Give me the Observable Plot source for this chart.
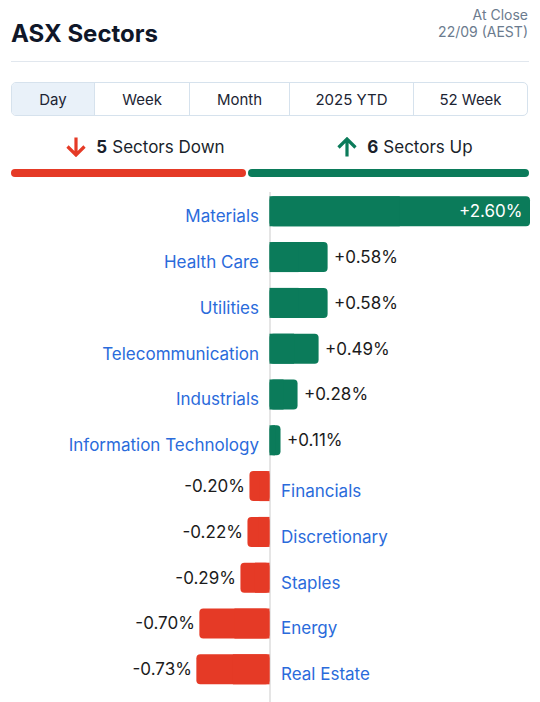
<!DOCTYPE html>
<html>
<head>
<meta charset="utf-8">
<script src="https://cdn.jsdelivr.net/npm/d3@7"></script>
<script src="https://cdn.jsdelivr.net/npm/@observablehq/plot@0.6"></script>
<style>
  html, body { margin: 0; padding: 0; background: #fff; }
  #wrap { position: relative; width: 540px; height: 702px; font-family: Inter, "Noto Sans", sans-serif; color: #111827; overflow: hidden; }
  .abs { position: absolute; }
  #title { left: 11px; top: 22px; font-size: 24px; line-height: 24px; font-weight: 700; color: #0f1729; }
  #asof { right: 12px; top: 7px; font-size: 14px; line-height: 16.7px; color: #6b7b8e; text-align: right; }
  #divider { left: 11px; top: 61px; width: 518px; height: 1px; background: #e1e7ee; }
  #tabs { left: 11px; top: 82px; width: 517px; height: 34px; box-sizing: border-box; border: 1px solid #d6e2ed; border-radius: 5px; display: flex; overflow: hidden; }
  .tab { box-sizing: border-box; height: 32px; display: flex; align-items: center; justify-content: center; font-size: 15px; color: #1c2433; border-right: 1px solid #d6e2ed; }
  .tab:last-child { border-right: none; flex: 1; }
  .tab.active { background: #e9f1f9; }
  .ind { top: 136.8px; height: 20px; line-height: 20px; font-size: 17px; color: #1a1f2b; display: flex; justify-content: center; align-items: center; }
  .ind svg { margin-right: 10px; }
  .ind b { font-weight: 700; margin-right: 5px; }
  .seg { top: 169px; height: 8px; border-radius: 4px; }
  #chart { left: 0; top: 190px; }
</style>
</head>
<body>
<div id="wrap">
  <div id="title" class="abs">ASX Sectors</div>
  <div id="asof" class="abs">At Close<br>22/09 (AEST)</div>
  <div id="divider" class="abs"></div>
  <div id="tabs" class="abs"></div>
  <div id="downInd" class="abs ind" style="left:11px;width:269px;"></div>
  <div id="upInd" class="abs ind" style="left:270px;width:270px;"></div>
  <div id="downSeg" class="abs seg"></div>
  <div id="upSeg" class="abs seg"></div>
  <div id="chart" class="abs"></div>
</div>
<script>
// ---- data ----
const sectors = ["Materials", "Health Care", "Utilities", "Telecommunication", "Industrials",
  "Information Technology", "Financials", "Discretionary", "Staples", "Energy", "Real Estate"];
const changes = [2.60, 0.58, 0.58, 0.49, 0.28, 0.11, -0.20, -0.22, -0.29, -0.70, -0.73];
const tabLabels = ["Day", "Week", "Month", "2025 YTD", "52 Week"];
const activeTab = "Day";
const asOf = ["At Close", "22/09 (AEST)"];

const GREEN = "#0b7b5a";
const RED = "#e53a26";
const BLUE = "#2a6bdb";
const TEXT = "#1b1b1b";

const data = sectors.map((name, i) => ({name, value: changes[i]}));
const pos = data.filter(d => d.value > 0);
const neg = data.filter(d => d.value < 0);
const fmt = v => (v > 0 ? "+" : "-") + Math.abs(v).toFixed(2) + "%";

// ---- tabs ----
const tabWidths = [83, 95, 100, 124, null];
const tabsEl = document.getElementById("tabs");
tabLabels.forEach((t, i) => {
  const el = document.createElement("div");
  el.className = "tab" + (t === activeTab ? " active" : "");
  if (tabWidths[i]) el.style.width = tabWidths[i] + "px";
  el.textContent = t;
  tabsEl.appendChild(el);
});

// ---- up / down indicators ----
const arrow = (dir, color) => {
  const p = dir === "down"
    ? "M10 0.5 V18 M1.5 9.5 L10 18 L18.5 9.5"
    : "M10 19.5 V2 M1.5 10.5 L10 2 L18.5 10.5";
  return `<svg width="20" height="20" viewBox="0 0 20 20"><path d="${p}" fill="none" stroke="${color}" stroke-width="3.2" stroke-linecap="butt" stroke-linejoin="miter"/></svg>`;
};
document.getElementById("downInd").innerHTML = arrow("down", RED) + `<b>${neg.length}</b>Sectors Down`;
document.getElementById("upInd").innerHTML = arrow("up", GREEN) + `<b>${pos.length}</b>Sectors Up`;
const segTotal = 518, segGap = 2;
const downW = (segTotal - segGap) * neg.length / data.length;
const upW = (segTotal - segGap) * pos.length / data.length;
Object.assign(document.getElementById("downSeg").style, {left: "11px", width: downW + "px", background: RED});
Object.assign(document.getElementById("upSeg").style, {left: (11 + downW + segGap) + "px", width: upW + "px", background: GREEN});

// ---- chart ----
const inside = d => d.value > 2;
const chart = Plot.plot({
  width: 540,
  height: 512,
  marginTop: 2,
  marginBottom: 0,
  marginLeft: 9,
  marginRight: 10,
  style: {fontFamily: "Inter, 'Noto Sans', sans-serif", fontSize: "17px", background: "transparent"},
  x: {domain: [-2.6, 2.6], axis: null},
  y: {domain: sectors, range: [1.7, 498.9], paddingInner: 0.345, paddingOuter: 0.1, round: false, axis: null},
  marks: [
    Plot.ruleX([0], {stroke: "#dcdcdc", strokeWidth: 1.5}),
    Plot.barX(pos, {x: "value", y: "name", fill: GREEN, rx: 4}),
    Plot.barX(pos, {x1: 0, x2: d => d.value / 2, y: "name", fill: GREEN}),
    Plot.barX(neg, {x: "value", y: "name", fill: RED, rx: 4}),
    Plot.barX(neg, {x1: 0, x2: d => d.value / 2, y: "name", fill: RED}),
    // value labels
    Plot.text(pos.filter(d => !inside(d)), {x: "value", y: "name", text: d => fmt(d.value), dx: 6, textAnchor: "start", fill: TEXT, fontSize: 17}),
    Plot.text(pos.filter(inside), {x: "value", y: "name", text: d => fmt(d.value), dx: -8, textAnchor: "end", fill: "#ffffff", fontSize: 17}),
    Plot.text(neg, {x: "value", y: "name", text: d => fmt(d.value), dx: -5, textAnchor: "end", fill: TEXT, fontSize: 17}),
    // category labels
    Plot.text(pos, {x: 0, y: "name", text: "name", dx: -11, dy: 5, textAnchor: "end", fill: BLUE, fontSize: 17}),
    Plot.text(neg, {x: 0, y: "name", text: "name", dx: 11, dy: 5, textAnchor: "start", fill: BLUE, fontSize: 17})
  ]
});
document.getElementById("chart").appendChild(chart);
</script>
</body>
</html>
